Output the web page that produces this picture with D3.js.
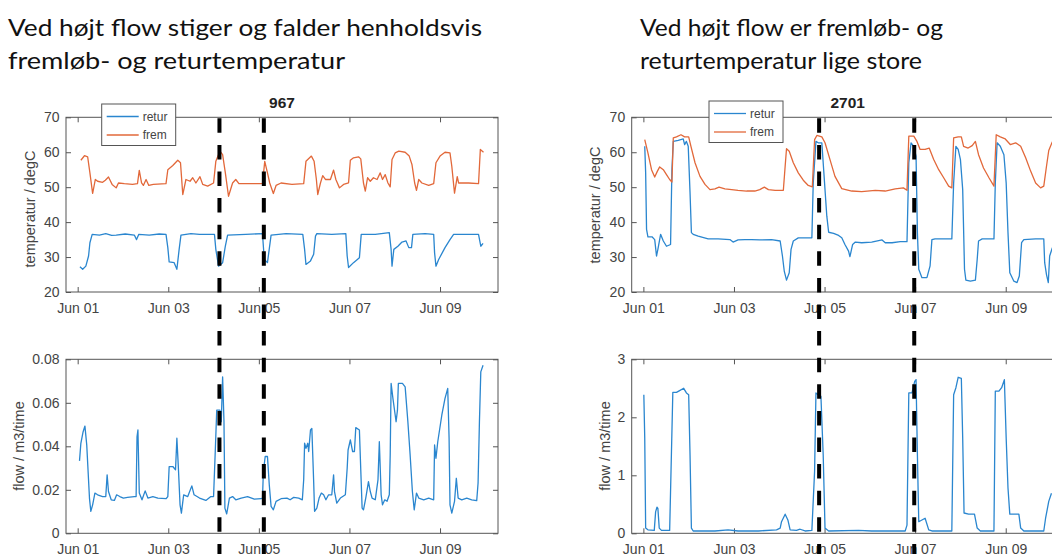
<!DOCTYPE html>
<html>
<head>
<meta charset="utf-8">
<script src="https://cdn.jsdelivr.net/npm/d3@7"></script>
<style>
  body { margin: 0; background: #fff; }
  svg { display: block; }
</style>
</head>
<body>
<div id="chart"></div>
<script>
// values: [days after Jun 01 00:00, value]
var fremL = [[0.07,57.7],[0.15,59.0],[0.22,58.7],[0.27,54.1],[0.33,48.2],[0.39,52.2],[0.44,51.7],[0.55,51.4],[0.61,52.0],[0.68,52.9],[0.76,50.8],[0.85,49.8],[0.90,51.2],[1.03,51.0],[1.21,50.8],[1.32,51.0],[1.36,54.8],[1.41,51.2],[1.45,50.5],[1.51,52.2],[1.57,50.5],[1.67,50.8],[1.95,51.0],[1.99,55.0],[2.10,56.2],[2.21,57.7],[2.27,57.0],[2.32,47.9],[2.39,52.2],[2.48,51.7],[2.54,52.7],[2.61,51.2],[2.70,53.0],[2.76,50.8],[2.87,50.3],[3.00,51.2],[3.05,57.4],[3.14,60.3],[3.20,59.3],[3.26,54.1],[3.33,47.4],[3.42,51.2],[3.49,52.2],[3.56,51.0],[4.08,51.0],[4.13,57.4],[4.19,54.1],[4.24,51.2],[4.32,48.2],[4.38,50.5],[4.49,51.2],[4.73,50.8],[4.99,51.0],[5.04,57.4],[5.16,58.9],[5.22,57.4],[5.27,52.2],[5.30,47.9],[5.36,51.2],[5.41,53.3],[5.47,52.2],[5.58,52.2],[5.65,54.9],[5.70,52.2],[5.78,49.8],[5.87,50.8],[5.98,51.2],[6.02,57.7],[6.09,58.4],[6.20,58.7],[6.25,58.1],[6.31,51.2],[6.35,48.9],[6.40,52.7],[6.46,51.7],[6.53,52.7],[6.61,52.2],[6.68,54.1],[6.73,52.2],[6.79,53.6],[6.85,51.2],[6.90,50.1],[6.94,57.9],[7.01,59.8],[7.09,60.3],[7.23,60.0],[7.32,58.9],[7.38,56.5],[7.44,51.2],[7.48,49.1],[7.53,52.2],[7.60,51.2],[7.75,50.5],[7.86,51.0],[7.91,57.0],[8.00,58.9],[8.11,60.0],[8.22,59.8],[8.26,56.0],[8.30,50.8],[8.32,48.3],[8.38,53.0],[8.41,51.2],[8.63,51.2],[8.85,51.0],[8.89,60.8],[8.96,60.0]]
var returL = [[0.05,27.2],[0.11,26.5],[0.18,27.4],[0.24,30.3],[0.27,34.1],[0.32,36.5],[0.48,36.3],[0.62,36.7],[0.75,36.2],[0.85,36.3],[1.05,36.6],[1.25,36.3],[1.30,35.0],[1.35,36.5],[1.58,36.3],[1.80,36.6],[1.95,36.5],[1.99,32.7],[2.02,28.6],[2.13,28.4],[2.19,26.5],[2.24,32.2],[2.28,36.3],[2.50,36.7],[2.69,36.5],[3.02,36.5],[3.05,32.2],[3.11,27.4],[3.20,28.4],[3.26,33.1],[3.31,36.3],[3.71,36.5],[4.08,36.7],[4.12,29.3],[4.19,28.4],[4.27,36.3],[4.60,36.7],[4.97,36.5],[5.01,32.2],[5.04,27.9],[5.14,28.9],[5.21,30.8],[5.25,36.0],[5.28,36.7],[5.61,36.5],[5.92,36.7],[5.95,30.3],[5.98,27.0],[6.09,28.4],[6.22,29.8],[6.26,36.5],[6.57,36.5],[6.88,37.0],[6.92,32.2],[6.94,27.4],[6.98,32.2],[7.07,33.1],[7.16,34.3],[7.25,34.6],[7.31,32.7],[7.37,32.7],[7.40,36.5],[7.67,36.7],[7.86,36.5],[7.88,31.2],[7.91,27.4],[7.97,29.3],[8.11,32.7],[8.22,35.0],[8.30,36.5],[8.85,36.5],[8.90,33.1],[8.95,33.9]]
var flowL = [[0.04,0.0333],[0.07,0.0414],[0.12,0.0467],[0.16,0.0493],[0.20,0.0406],[0.23,0.0284],[0.26,0.0162],[0.29,0.0101],[0.33,0.0131],[0.38,0.0185],[0.44,0.0177],[0.55,0.0169],[0.62,0.0169],[0.65,0.0269],[0.68,0.0192],[0.74,0.0154],[0.81,0.0151],[0.86,0.0177],[0.93,0.0169],[1.01,0.0162],[1.10,0.0165],[1.25,0.0169],[1.29,0.0169],[1.31,0.0444],[1.33,0.0475],[1.36,0.0185],[1.42,0.0154],[1.49,0.0195],[1.55,0.0162],[1.66,0.0169],[1.77,0.0162],[1.95,0.0159],[1.99,0.0169],[2.02,0.0307],[2.10,0.0307],[2.16,0.0292],[2.19,0.0437],[2.22,0.0315],[2.26,0.0131],[2.29,0.0093],[2.34,0.0177],[2.43,0.0169],[2.52,0.0218],[2.57,0.0177],[2.69,0.0162],[2.83,0.0151],[2.94,0.0169],[3.00,0.0169],[3.04,0.0391],[3.07,0.0566],[3.14,0.0566],[3.17,0.0513],[3.20,0.0719],[3.23,0.0513],[3.25,0.0116],[3.29,0.0089],[3.35,0.0162],[3.42,0.0169],[3.49,0.0154],[3.61,0.0162],[3.75,0.0169],[3.90,0.0157],[4.05,0.0159],[4.08,0.0162],[4.10,0.0284],[4.14,0.0353],[4.19,0.0353],[4.23,0.0223],[4.27,0.0124],[4.32,0.0108],[4.38,0.0147],[4.49,0.0159],[4.62,0.0162],[4.69,0.0154],[4.77,0.0165],[4.88,0.0162],[4.96,0.0154],[4.99,0.0246],[5.01,0.0414],[5.04,0.0391],[5.08,0.0414],[5.10,0.0376],[5.14,0.0475],[5.17,0.0482],[5.21,0.0238],[5.23,0.0101],[5.28,0.0116],[5.33,0.0162],[5.38,0.0185],[5.43,0.0177],[5.48,0.0154],[5.54,0.0177],[5.61,0.0177],[5.65,0.0269],[5.67,0.0192],[5.72,0.0139],[5.80,0.0162],[5.91,0.0177],[5.95,0.0299],[5.97,0.0383],[6.02,0.0429],[6.07,0.0376],[6.11,0.0376],[6.14,0.0486],[6.22,0.0475],[6.25,0.0292],[6.28,0.0116],[6.31,0.0108],[6.36,0.0162],[6.42,0.0238],[6.46,0.0192],[6.50,0.0162],[6.57,0.0154],[6.63,0.0246],[6.66,0.0421],[6.70,0.0177],[6.73,0.0131],[6.78,0.0154],[6.83,0.0147],[6.88,0.0177],[6.90,0.0360],[6.92,0.0689],[6.96,0.0620],[7.00,0.0559],[7.03,0.0513],[7.06,0.0566],[7.08,0.0689],[7.17,0.0689],[7.23,0.0673],[7.29,0.0513],[7.34,0.0360],[7.39,0.0192],[7.43,0.0108],[7.48,0.0185],[7.53,0.0162],[7.64,0.0154],[7.75,0.0162],[7.86,0.0154],[7.88,0.0406],[7.91,0.0345],[7.95,0.0421],[8.04,0.0544],[8.11,0.0620],[8.17,0.0666],[8.20,0.0437],[8.22,0.0131],[8.26,0.0093],[8.32,0.0147],[8.36,0.0253],[8.40,0.0162],[8.48,0.0154],[8.59,0.0162],[8.70,0.0154],[8.81,0.0150],[8.84,0.0231],[8.87,0.0513],[8.90,0.0742],[8.95,0.0773]]

var fremR = [[0.03,63.6],[0.10,59.8],[0.18,55.0],[0.25,52.9],[0.31,54.6],[0.36,55.8],[0.44,55.0],[0.51,53.6],[0.58,52.2],[0.63,51.5],[0.66,64.1],[0.73,64.4],[0.83,65.0],[0.91,64.4],[1.00,64.4],[1.05,61.7],[1.14,57.0],[1.25,53.1],[1.36,50.8],[1.47,49.3],[1.58,49.5],[1.67,50.0],[1.80,49.5],[1.95,49.3],[2.09,49.1],[2.28,48.9],[2.46,48.9],[2.57,49.3],[2.67,50.0],[2.76,49.3],[2.91,49.1],[3.09,49.1],[3.13,56.0],[3.16,61.0],[3.22,60.3],[3.31,57.0],[3.42,54.1],[3.53,52.0],[3.64,50.5],[3.73,50.1],[3.78,63.6],[3.83,64.8],[3.94,64.4],[4.01,62.7],[4.12,57.9],[4.23,53.1],[4.38,49.6],[4.60,48.9],[4.82,48.7],[5.12,49.1],[5.34,48.9],[5.56,49.5],[5.74,49.8],[5.82,49.1],[5.86,64.6],[5.97,64.6],[6.04,63.1],[6.11,60.8],[6.22,60.8],[6.31,61.2],[6.41,57.9],[6.52,55.0],[6.63,52.7],[6.74,50.3],[6.81,49.8],[6.85,64.1],[6.95,64.4],[7.02,64.4],[7.07,61.7],[7.17,61.2],[7.26,61.9],[7.33,63.1],[7.40,59.3],[7.51,55.5],[7.63,52.7],[7.74,50.3],[7.79,65.0],[7.88,64.4],[7.99,63.8],[8.10,62.2],[8.22,62.7],[8.33,61.7],[8.44,58.4],[8.55,54.6],[8.66,51.2],[8.77,49.8],[8.84,50.3],[8.90,56.0],[8.95,60.5],[9.03,63.0]]
var returR = [[0.03,61.7],[0.05,54.1],[0.07,37.9],[0.10,35.8],[0.19,35.8],[0.25,35.0],[0.29,30.3],[0.32,32.2],[0.38,36.5],[0.44,34.6],[0.51,33.1],[0.60,33.6],[0.63,55.0],[0.66,63.1],[0.77,63.4],[0.88,63.8],[0.91,62.2],[0.95,63.1],[0.99,61.7],[1.03,48.4],[1.06,37.0],[1.10,36.5],[1.21,36.0],[1.43,35.2],[1.65,35.2],[1.91,35.0],[1.98,34.3],[2.09,34.9],[2.24,35.0],[2.39,35.0],[2.57,34.9],[2.83,35.0],[3.02,34.6],[3.07,30.3],[3.11,26.0],[3.16,23.4],[3.22,25.5],[3.26,32.2],[3.31,34.6],[3.42,35.5],[3.57,35.5],[3.72,35.5],[3.75,51.2],[3.81,63.1],[3.86,62.7],[3.94,62.7],[4.00,51.2],[4.05,41.7],[4.09,37.1],[4.20,36.8],[4.31,36.2],[4.38,35.5],[4.45,33.6],[4.53,31.7],[4.56,30.1],[4.62,33.6],[4.68,34.3],[4.82,34.1],[5.04,34.3],[5.27,34.9],[5.34,34.1],[5.49,34.1],[5.67,34.4],[5.82,34.4],[5.86,57.0],[5.91,62.7],[5.97,61.7],[6.02,58.9],[6.05,37.0],[6.08,26.5],[6.15,24.1],[6.26,24.1],[6.33,27.5],[6.37,35.0],[6.44,35.2],[6.67,35.2],[6.81,35.2],[6.85,51.2],[6.90,61.7],[6.95,60.8],[7.00,57.9],[7.05,49.3],[7.09,26.5],[7.12,23.4],[7.22,23.1],[7.33,23.4],[7.37,29.3],[7.40,34.6],[7.48,35.2],[7.74,35.2],[7.77,51.2],[7.81,62.7],[7.88,61.7],[7.96,59.3],[8.01,51.2],[8.05,37.0],[8.09,25.5],[8.18,23.1],[8.25,22.7],[8.30,24.6],[8.35,34.1],[8.40,35.0],[8.66,35.2],[8.84,35.2],[8.86,28.4],[8.90,25.0],[8.94,22.7],[8.97,30.3],[9.03,32.7]]
var flowR = [[0.01,2.39],[0.03,1.64],[0.05,0.09],[0.10,0.06],[0.24,0.05],[0.27,0.37],[0.30,0.45],[0.32,0.43],[0.35,0.09],[0.40,0.05],[0.58,0.05],[0.62,1.41],[0.65,2.43],[0.73,2.43],[0.80,2.46],[0.89,2.50],[0.95,2.42],[1.00,2.39],[1.03,1.35],[1.06,0.09],[1.10,0.04],[1.58,0.04],[1.87,0.06],[2.09,0.04],[2.54,0.04],[2.94,0.06],[3.02,0.09],[3.05,0.20],[3.13,0.33],[3.19,0.23],[3.24,0.06],[3.38,0.05],[3.46,0.07],[3.57,0.04],[3.72,0.05],[3.78,1.07],[3.81,2.42],[3.86,2.39],[3.92,2.36],[3.97,1.35],[4.01,0.09],[4.09,0.04],[4.75,0.05],[5.04,0.04],[5.78,0.04],[5.82,0.14],[5.86,2.42],[5.93,2.42],[5.99,2.62],[6.02,2.65],[6.05,1.35],[6.08,0.20],[6.15,0.23],[6.22,0.26],[6.30,0.06],[6.37,0.04],[6.81,0.04],[6.85,2.39],[6.90,2.51],[6.95,2.69],[7.02,2.67],[7.05,1.64],[7.08,0.35],[7.18,0.33],[7.31,0.33],[7.37,0.09],[7.44,0.04],[7.74,0.04],[7.77,2.45],[7.85,2.45],[7.91,2.51],[7.97,2.65],[8.01,1.64],[8.05,0.78],[8.09,0.33],[8.29,0.33],[8.33,0.09],[8.40,0.04],[8.84,0.04],[8.88,0.26],[8.95,0.55],[9.01,0.69]]

var markL = [3.13, 4.11]
var markR = [3.88, 5.98]
var dayTicks = [0, 2, 4, 6, 8]
var tempTicks = [20, 30, 40, 50, 60, 70]
var flowTicksL = [0, 0.02, 0.04, 0.06, 0.08]
var flowTicksR = [0, 1, 2, 3]
var seriesNames = ['retur', 'frem']
var plotTitles = ['967', '2701']
var headL = ['Ved højt flow stiger og falder henholdsvis', 'fremløb- og returtemperatur']
var headR = ['Ved højt flow er fremløb- og', 'returtemperatur lige store']

var BLUE = '#2a86cf', ORANGE = '#e2683a', AXIS = '#555', TXT = '#444'
var W = 1052, H = 554
var base = new Date(2017, 5, 1)
function day(t) { return new Date(base.getTime() + t * 864e5) }
var xDomain = [day(-0.258), day(9.28)]

var svg = d3.select('#chart').append('svg').attr('width', W).attr('height', H)
  .style('font-family', 'Liberation Sans, Arial, sans-serif')

// overskrifter
function header(lines, x, widths) {
  lines.forEach(function (s, i) {
    svg.append('text').attr('x', x).attr('y', 36 + i * 32.5)
      .attr('font-family', 'Lato, sans-serif').attr('font-size', 23).attr('fill', '#111')
      .attr('textLength', widths[i]).attr('lengthAdjust', 'spacingAndGlyphs')
      .text(s)
  })
}
header(headL, 8, [474, 337])
header(headR, 640, [303, 282])

function panel(o) {
  var x = d3.scaleTime().domain(xDomain).range([o.x0, o.x1])
  var y = d3.scaleLinear().domain(o.yDom).range([o.y1, o.y0])
  var g = svg.append('g')

  var fmt = d3.timeFormat('%b %d')
  var bx = g.append('g').attr('transform', 'translate(0,' + o.y1 + ')')
    .call(d3.axisBottom(x).tickValues(dayTicks.map(day)).tickFormat(fmt).tickSizeInner(-5).tickSizeOuter(0).tickPadding(11))
  var tx = g.append('g').attr('transform', 'translate(0,' + o.y0 + ')')
    .call(d3.axisTop(x).tickValues(dayTicks.map(day)).tickFormat('').tickSizeInner(-5).tickSizeOuter(0))
  var ly = g.append('g').attr('transform', 'translate(' + o.x0 + ',0)')
    .call(d3.axisLeft(y).tickValues(o.yTicks).tickFormat(o.yFmt).tickSizeInner(-5).tickSizeOuter(0).tickPadding(6.5))
  var ry = g.append('g').attr('transform', 'translate(' + o.x1 + ',0)')
    .call(d3.axisRight(y).tickValues(o.yTicks).tickFormat('').tickSizeInner(-5).tickSizeOuter(0))
  ;[bx, tx, ly, ry].forEach(function (a) {
    a.select('.domain').remove()
    a.selectAll('line').attr('stroke', AXIS)
    a.selectAll('text').attr('fill', TXT).attr('font-size', 14).attr('font-family', 'Liberation Sans, Arial, sans-serif')
  })

  var line = d3.line().x(function (d) { return x(day(d[0])) }).y(function (d) { return y(d[1]) })
  o.series.forEach(function (s) {
    g.append('path').datum(s.data).attr('d', line)
      .attr('fill', 'none').attr('stroke', s.color).attr('stroke-width', 1.3).attr('stroke-linejoin', 'round')
  })

  g.append('rect').attr('x', o.x0).attr('y', o.y0).attr('width', o.x1 - o.x0).attr('height', o.y1 - o.y0)
    .attr('fill', 'none').attr('stroke', AXIS).attr('stroke-width', 1)

  g.append('text').attr('transform', 'translate(' + o.labX + ',' + o.labY + ') rotate(-90)')
    .attr('text-anchor', 'middle').attr('dy', '0.35em').attr('font-size', 14.5).attr('fill', TXT)
    .text(o.yLabel)

  if (o.title) {
    g.append('text').attr('x', (o.x0 + o.x1) / 2).attr('y', 108).attr('text-anchor', 'middle')
      .attr('font-weight', 'bold').attr('font-size', 15.5).attr('fill', '#222').text(o.title)
  }
  if (o.legend) {
    var L = o.legend
    var lg = g.append('g').attr('transform', 'translate(' + L.x + ',' + L.y + ')')
    lg.append('rect').attr('width', 74).attr('height', 41.5).attr('fill', '#fff').attr('stroke', AXIS)
    ;[BLUE, ORANGE].forEach(function (c, i) {
      var yy = 12.5 + i * 18.5
      lg.append('line').attr('x1', 5).attr('x2', 37).attr('y1', yy).attr('y2', yy).attr('stroke', c).attr('stroke-width', 1.3)
      lg.append('text').attr('x', 41).attr('y', yy).attr('dy', '0.35em').attr('font-size', 12).attr('fill', TXT).text(seriesNames[i])
    })
  }
  return x
}

var xl = panel({ x0: 66, x1: 498, y0: 117.3, y1: 292, yDom: [20, 70], yTicks: tempTicks, yFmt: d3.format('d'),
  series: [{ data: returL, color: BLUE }, { data: fremL, color: ORANGE }],
  yLabel: 'temperatur / degC', labX: 30, labY: 209, title: plotTitles[0], legend: { x: 101.7, y: 104 } })
panel({ x0: 66, x1: 498, y0: 359.3, y1: 533.3, yDom: [0, 0.08], yTicks: flowTicksL, yFmt: function (d) { return d === 0 ? '0' : d3.format('.2f')(d) },
  series: [{ data: flowL, color: BLUE }], yLabel: 'flow / m3/time', labX: 18.5, labY: 446 })
var xr = panel({ x0: 631.7, x1: 1063.7, y0: 117.3, y1: 292, yDom: [20, 70], yTicks: tempTicks, yFmt: d3.format('d'),
  series: [{ data: returR, color: BLUE }, { data: fremR, color: ORANGE }],
  yLabel: 'temperatur / degC', labX: 595, labY: 205, title: plotTitles[1], legend: { x: 709, y: 101 } })
panel({ x0: 631.7, x1: 1063.7, y0: 359.3, y1: 533.3, yDom: [0, 3], yTicks: flowTicksR, yFmt: d3.format('d'),
  series: [{ data: flowR, color: BLUE }], yLabel: 'flow / m3/time', labX: 605, labY: 446 })

// stiplede markeringer paa tvaers af begge akser
function marks(ts, x) {
  ts.forEach(function (t) {
    svg.append('line').attr('x1', x(day(t))).attr('x2', x(day(t))).attr('y1', 118.3).attr('y2', H)
      .attr('stroke', '#000').attr('stroke-width', 4).attr('stroke-dasharray', '14.5,12.1')
  })
}
marks(markL, xl)
marks(markR, xr)
</script>
</body>
</html>
